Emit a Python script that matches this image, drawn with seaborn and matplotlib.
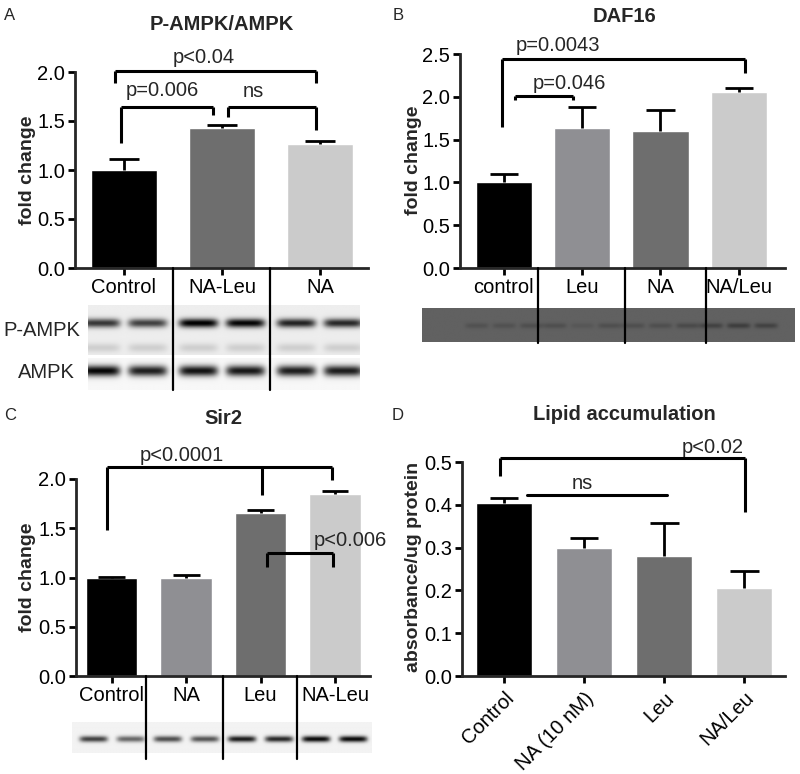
import numpy as np
import matplotlib
matplotlib.use("Agg")
import matplotlib.pyplot as plt
import seaborn as sns

sns.set_style("ticks")
plt.rcParams["font.family"] = ["Liberation Sans", "DejaVu Sans"]

# ---------------- data ----------------
a_cats = ["Control", "NA-Leu", "NA"]
a_vals = [1.00, 1.43, 1.27]
a_errs = [1.11, 1.46, 1.30]
a_cols = ["#000000", "#6e6e6e", "#cbcbcb"]
a_pampk = [0.72, 0.68, 0.95, 0.92, 0.80, 0.78]
a_ampk = [0.95, 0.85, 0.90, 0.88, 0.86, 0.86]

b_cats = ["control", "Leu", "NA", "NA/Leu"]
b_vals = [1.00, 1.63, 1.60, 2.06]
b_errs = [1.10, 1.88, 1.85, 2.10]
b_cols = ["#000000", "#8f8f93", "#6e6e6e", "#cbcbcb"]
b_bands = [0.06, 0.06, 0.07, 0.07, 0.04, 0.07, 0.07, 0.07, 0.09, 0.12, 0.14, 0.12]

c_cats = ["Control", "NA", "Leu", "NA-Leu"]
c_vals = [1.00, 1.00, 1.65, 1.85]
c_errs = [1.005, 1.03, 1.69, 1.88]
c_cols = ["#000000", "#8f8f93", "#6e6e6e", "#cbcbcb"]
c_bands = [0.70, 0.55, 0.65, 0.62, 0.85, 0.80, 0.92, 0.92]

d_cats = ["Control", "NA (10 nM)", "Leu", "NA/Leu"]
d_vals = [0.405, 0.300, 0.280, 0.205]
d_errs = [0.415, 0.322, 0.358, 0.246]
d_cols = ["#000000", "#8f8f93", "#6e6e6e", "#cbcbcb"]

W, H = 800, 774
FS = 14.5      # tick / annotation size
TS = 14.5      # title size
LS = 14        # y-label size
fig = plt.figure(figsize=(W / 100, H / 100), dpi=100)


def rect(l, t, r, b):
    return [l / W, 1 - b / H, (r - l) / W, (b - t) / H]


def bar_panel(r, cats, vals, errs, cols, xlim, ylim, yticks, width, capw):
    ax = fig.add_axes(rect(*r))
    ax.set_zorder(3)
    ax.patch.set_alpha(0)
    sns.barplot(x=cats, y=vals, hue=cats, palette=cols, legend=False,
                width=width, saturation=1, ax=ax, order=cats, hue_order=cats)
    pos = np.arange(len(cats))
    ax.vlines(pos, vals, errs, color="black", lw=2, zorder=5)
    ax.hlines(errs, pos - capw, pos + capw, color="black", lw=2, zorder=5)
    ax.set_xlim(*xlim)
    ax.set_ylim(*ylim)
    ax.set_yticks(yticks)
    ax.set_yticklabels([f"{t:.1f}" for t in yticks])
    for s in ["top", "right"]:
        ax.spines[s].set_visible(False)
    for s in ["left", "bottom"]:
        ax.spines[s].set_linewidth(2.0)
    ax.tick_params(axis="both", width=2.0, length=5, labelsize=FS, pad=2,
                   colors="black")
    ax.set_xlabel("")
    ax.set_ylabel("")
    return ax


def bracket(ax, x0, x1, y, legs, lw=2.2):
    ax.plot([x0, x1], [y, y], color="black", lw=lw, clip_on=False,
            solid_capstyle="butt", zorder=6)
    for lx, ly in legs:
        ax.plot([lx, lx], [y, ly], color="black", lw=lw, clip_on=False,
                solid_capstyle="butt", zorder=6)


def dividers(ax, xs, depth):
    for x in xs:
        ax.plot([x, x], [0, depth], color="black", lw=1.6, clip_on=False,
                transform=ax.get_xaxis_transform(), zorder=6)


def blot(r, xlim, lanes, amps, band_y, band_w, band_h, bg, extra=None):
    ax = fig.add_axes(rect(*r))
    ax.set_zorder(1)
    xs = np.linspace(xlim[0], xlim[1], 500)
    ys = np.linspace(0, 1, 80)
    X, Y = np.meshgrid(xs, ys)
    img = np.full(X.shape, bg, dtype=float)
    for lx, a in zip(lanes, amps):
        img += a * np.exp(-((X - lx) / band_w) ** 6) * np.exp(-((Y - band_y) / band_h) ** 2)
        if extra is not None:
            img += extra[1] * np.exp(-((X - lx) / band_w) ** 6) * np.exp(-((Y - extra[0]) / band_h) ** 2)
    img = np.clip(img, 0, 1)
    ax.imshow(img, cmap="gray_r", vmin=0, vmax=1, aspect="auto",
              extent=[xlim[0], xlim[1], 1, 0], interpolation="bilinear")
    ax.set_xlim(*xlim)
    ax.set_ylim(1, 0)
    ax.axis("off")
    return ax


# ---------------- Panel A ----------------
axA = bar_panel((75, 72, 368, 268), a_cats, a_vals, a_errs, a_cols,
                (-0.5, 2.49), (0, 2.0), [0, 0.5, 1.0, 1.5, 2.0], 0.68, 0.15)
bracket(axA, -0.09, 1.96, 2.01, [(-0.09, 1.89), (1.96, 1.89)])
bracket(axA, -0.03, 0.91, 1.64, [(-0.03, 1.28), (0.91, 1.56)])
bracket(axA, 1.06, 1.96, 1.64, [(1.06, 1.54), (1.96, 1.41)])
axA.text(0.81, 2.15, "p<0.04", ha="center", va="center", fontsize=FS)
axA.text(0.39, 1.81, "p=0.006", ha="center", va="center", fontsize=FS)
axA.text(1.32, 1.80, "ns", ha="center", va="center", fontsize=FS)
dividers(axA, [0.5, 1.49], -0.62)
lanesA = [p + o for p in range(3) for o in (-0.24, 0.24)]
xA = ((88 - 124) / 98, (360 - 124) / 98)
blot((88, 305, 360, 355), xA, lanesA, a_pampk, 0.36, 0.2, 0.09, 0.07,
     extra=(0.86, 0.12))
blot((88, 358, 360, 390), xA, lanesA, a_ampk, 0.40, 0.2, 0.17, 0.03)
fig.text(42 / W, 1 - 330 / H, "P-AMPK", fontsize=FS, ha="center", va="center")
fig.text(46 / W, 1 - 373 / H, "AMPK", fontsize=FS, ha="center", va="center")
fig.text(222 / W, 1 - 25 / H, "P-AMPK/AMPK", fontsize=TS, weight="bold",
         ha="center", va="center")
fig.text(27 / W, 1 - 170 / H, "fold change", fontsize=LS, weight="bold",
         rotation=90, ha="center", va="center")
fig.text(10 / W, 1 - 15 / H, "A", fontsize=12, ha="center", va="center")

# ---------------- Panel B ----------------
axB = bar_panel((460, 54, 785, 268), b_cats, b_vals, b_errs, b_cols,
                (-0.56, 3.59), (0, 2.5), [0, 0.5, 1.0, 1.5, 2.0, 2.5], 0.72, 0.18)
bracket(axB, -0.03, 3.08, 2.44, [(-0.03, 1.65), (3.08, 2.28)])
bracket(axB, 0.14, 0.88, 2.01, [(0.14, 1.96), (0.88, 1.96)])
axB.text(0.69, 2.60, "p=0.0043", ha="center", va="center", fontsize=FS)
axB.text(0.84, 2.16, "p=0.046", ha="center", va="center", fontsize=FS)
dividers(axB, [0.43, 1.55, 2.58], -0.35)
xB = ((422 - 504) / 78.3, (795 - 504) / 78.3)
lanesB = [p + o for p in range(4) for o in (-0.35, 0.0, 0.35)]
blot((422, 308, 795, 342), xB, lanesB, b_bands, 0.52, 0.15, 0.08, 0.62)
fig.text(624 / W, 1 - 17 / H, "DAF16", fontsize=TS, weight="bold",
         ha="center", va="center")
fig.text(413 / W, 1 - 160 / H, "fold change", fontsize=LS, weight="bold",
         rotation=90, ha="center", va="center")
fig.text(398 / W, 1 - 15 / H, "B", fontsize=12, ha="center", va="center")

# ---------------- Panel C ----------------
axC = bar_panel((76, 479, 370, 676), c_cats, c_vals, c_errs, c_cols,
                (-0.48, 3.47), (0, 2.0), [0, 0.5, 1.0, 1.5, 2.0], 0.69, 0.18)
bracket(axC, -0.07, 2.96, 2.12, [(-0.07, 1.48), (2.02, 1.84), (2.96, 1.99)])
bracket(axC, 2.09, 2.97, 1.25, [(2.09, 1.11), (2.97, 1.11)])
axC.text(0.94, 2.24, "p<0.0001", ha="center", va="center", fontsize=FS)
axC.text(3.2, 1.38, "p<0.006", ha="center", va="center", fontsize=FS)
dividers(axC, [0.46, 1.49, 2.49], -0.42)
xC = ((72 - 112) / 74.3, (372 - 112) / 74.3)
lanesC = [p + o for p in range(4) for o in (-0.25, 0.25)]
blot((72, 722, 372, 753), xC, lanesC, c_bands, 0.55, 0.19, 0.1, 0.05)
fig.text(223 / W, 1 - 418 / H, "Sir2", fontsize=TS, weight="bold",
         ha="center", va="center")
fig.text(27 / W, 1 - 577 / H, "fold change", fontsize=LS, weight="bold",
         rotation=90, ha="center", va="center")
fig.text(10 / W, 1 - 415 / H, "C", fontsize=12, ha="center", va="center")

# ---------------- Panel D ----------------
axD = bar_panel((462, 462, 785, 676), d_cats, d_vals, d_errs, d_cols,
                (-0.525, 3.51), (0, 0.5), [0, 0.1, 0.2, 0.3, 0.4, 0.5], 0.7, 0.18)
bracket(axD, -0.05, 3.01, 0.509, [(-0.05, 0.468), (3.01, 0.383)])
axD.plot([0.29, 2.03], [0.423, 0.423], color="black", lw=2.2, zorder=6)
axD.text(2.61, 0.535, "p<0.02", ha="center", va="center", fontsize=FS)
axD.text(0.98, 0.45, "ns", ha="center", va="center", fontsize=FS)
axD.tick_params(axis="x", pad=4)
for lab in axD.get_xticklabels():
    lab.set_rotation(45)
    lab.set_ha("right")
    lab.set_va("top")
    lab.set_rotation_mode("anchor")
fig.text(624 / W, 1 - 415 / H, "Lipid accumulation", fontsize=TS,
         weight="bold", ha="center", va="center")
fig.text(413 / W, 1 - 567 / H, "absorbance/ug protein", fontsize=LS,
         weight="bold", rotation=90, ha="center", va="center")
fig.text(398 / W, 1 - 415 / H, "D", fontsize=12, ha="center", va="center")

fig.savefig("out.png", dpi=100, facecolor="white")
